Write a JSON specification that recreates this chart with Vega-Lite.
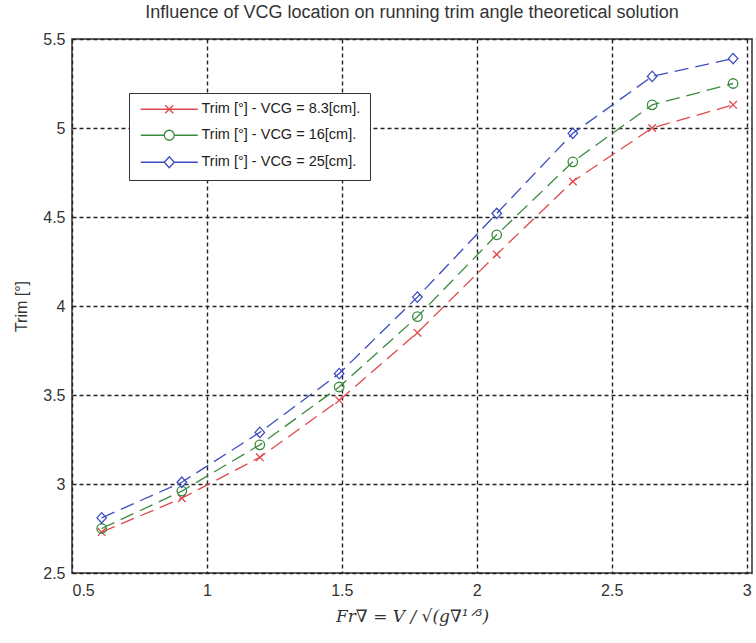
{
  "$schema": "https://vega.github.io/schema/vega-lite/v6.json",
  "autosize": "none",
  "width": 680,
  "height": 534,
  "padding": {"left": 72, "top": 39, "right": 4, "bottom": 70},
  "background": "white",
  "title": {
    "text": "Influence of VCG location on running trim angle theoretical solution",
    "font": "Liberation Sans",
    "fontSize": 18,
    "fontWeight": "normal",
    "color": "#333",
    "offset": 9,
    "anchor": "middle"
  },
  "config": {
    "view": {"stroke": "#333", "strokeWidth": 1.5},
    "axis": {
      "domain": false,
      "ticks": false,
      "grid": true,
      "gridColor": "#222",
      "gridDash": [4, 3],
      "gridWidth": 1.4,
      "gridOpacity": 1,
      "labelFont": "Liberation Sans",
      "labelFontSize": 16,
      "labelColor": "#333",
      "titleColor": "#333",
      "titleFontWeight": "normal"
    }
  },
  "data": {
    "values": [
      {"series": "Trim [°] - VCG = 8.3[cm].", "fr": 0.61, "trim": 2.73},
      {"series": "Trim [°] - VCG = 8.3[cm].", "fr": 0.907, "trim": 2.92},
      {"series": "Trim [°] - VCG = 8.3[cm].", "fr": 1.196, "trim": 3.15},
      {"series": "Trim [°] - VCG = 8.3[cm].", "fr": 1.49, "trim": 3.47},
      {"series": "Trim [°] - VCG = 8.3[cm].", "fr": 1.78, "trim": 3.85},
      {"series": "Trim [°] - VCG = 8.3[cm].", "fr": 2.074, "trim": 4.29},
      {"series": "Trim [°] - VCG = 8.3[cm].", "fr": 2.356, "trim": 4.7},
      {"series": "Trim [°] - VCG = 8.3[cm].", "fr": 2.65, "trim": 5.0},
      {"series": "Trim [°] - VCG = 8.3[cm].", "fr": 2.95, "trim": 5.13},
      {"series": "Trim [°] - VCG = 16[cm].", "fr": 0.61, "trim": 2.75},
      {"series": "Trim [°] - VCG = 16[cm].", "fr": 0.907, "trim": 2.96},
      {"series": "Trim [°] - VCG = 16[cm].", "fr": 1.196, "trim": 3.22},
      {"series": "Trim [°] - VCG = 16[cm].", "fr": 1.49, "trim": 3.545},
      {"series": "Trim [°] - VCG = 16[cm].", "fr": 1.78, "trim": 3.94},
      {"series": "Trim [°] - VCG = 16[cm].", "fr": 2.074, "trim": 4.4},
      {"series": "Trim [°] - VCG = 16[cm].", "fr": 2.356, "trim": 4.81},
      {"series": "Trim [°] - VCG = 16[cm].", "fr": 2.65, "trim": 5.13},
      {"series": "Trim [°] - VCG = 16[cm].", "fr": 2.95, "trim": 5.25},
      {"series": "Trim [°] - VCG = 25[cm].", "fr": 0.61, "trim": 2.81},
      {"series": "Trim [°] - VCG = 25[cm].", "fr": 0.907, "trim": 3.01},
      {"series": "Trim [°] - VCG = 25[cm].", "fr": 1.196, "trim": 3.29},
      {"series": "Trim [°] - VCG = 25[cm].", "fr": 1.49, "trim": 3.62},
      {"series": "Trim [°] - VCG = 25[cm].", "fr": 1.78, "trim": 4.05},
      {"series": "Trim [°] - VCG = 25[cm].", "fr": 2.074, "trim": 4.52},
      {"series": "Trim [°] - VCG = 25[cm].", "fr": 2.356, "trim": 4.97},
      {"series": "Trim [°] - VCG = 25[cm].", "fr": 2.65, "trim": 5.29},
      {"series": "Trim [°] - VCG = 25[cm].", "fr": 2.95, "trim": 5.39}
    ]
  },
  "encoding": {
    "x": {
      "field": "fr",
      "type": "quantitative",
      "scale": {"domain": [0.5, 3.02], "nice": false, "zero": false},
      "axis": {
        "values": [0.5, 1, 1.5, 2, 2.5, 3],
        "format": "~g",
        "labelPadding": 9,
        "title": "Fr∇ = V / √(g∇¹ᐟ³)",
        "titleFont": "DejaVu Serif",
        "titleFontStyle": "italic",
        "titleFontSize": 17,
        "titlePadding": 10
      }
    },
    "y": {
      "field": "trim",
      "type": "quantitative",
      "scale": {"domain": [2.5, 5.5], "nice": false, "zero": false},
      "axis": {
        "values": [2.5, 3, 3.5, 4, 4.5, 5, 5.5],
        "format": "~g",
        "labelPadding": 7,
        "title": "Trim [°]",
        "titleFont": "Liberation Sans",
        "titleFontSize": 16,
        "titlePadding": 13
      }
    },
    "color": {
      "field": "series",
      "type": "nominal",
      "scale": {
        "domain": ["Trim [°] - VCG = 8.3[cm].", "Trim [°] - VCG = 16[cm].", "Trim [°] - VCG = 25[cm]."],
        "range": ["#e0484c", "#3a8a3e", "#3c4cc0"]
      },
      "legend": {
        "title": null,
        "orient": "none",
        "legendX": 57,
        "legendY": 54,
        "padding": 9,
        "strokeColor": "#333",
        "fillColor": "white",
        "symbolSize": 100,
        "symbolStrokeWidth": 1.3,
        "symbolOpacity": 1,
        "symbolFillColor": "transparent",
        "symbolOffset": 24,
        "labelOffset": 25,
        "labelFont": "Liberation Sans",
        "labelFontSize": 14.5,
        "labelColor": "#222",
        "rowPadding": 11,
        "labelLimit": 300
      }
    }
  },
  "layer": [
    {
      "mark": {"type": "point", "filled": false, "opacity": 0, "size": 1},
      "encoding": {
        "shape": {
          "field": "series",
          "type": "nominal",
          "scale": {
            "domain": ["Trim [°] - VCG = 8.3[cm].", "Trim [°] - VCG = 16[cm].", "Trim [°] - VCG = 25[cm]."],
            "range": [
              "M-5.7,0L5.7,0M-0.8,-0.8L0.8,0.8M-0.8,0.8L0.8,-0.8",
              "M-5.7,0L-1,0M1,0L5.7,0M-1,0A1,1 0 1,0 1,0A1,1 0 1,0 -1,0",
              "M-5.7,0L-1,0M1,0L5.7,0M-1,0L0,-1.1L1,0L0,1.1Z"
            ]
          }
        }
      }
    },
    {
      "mark": {"type": "line", "strokeDash": [14, 7], "strokeWidth": 1.3},
      "encoding": {}
    },
    {
      "transform": [{"filter": "datum.series == 'Trim [°] - VCG = 8.3[cm].'"}],
      "mark": {"type": "point", "filled": false, "strokeWidth": 1.3, "size": 90, "opacity": 1, "shape": "M-0.8,-0.8L0.8,0.8M-0.8,0.8L0.8,-0.8"},
      "encoding": {}
    },
    {
      "transform": [{"filter": "datum.series == 'Trim [°] - VCG = 16[cm].'"}],
      "mark": {"type": "point", "filled": false, "strokeWidth": 1.3, "size": 90, "opacity": 1, "shape": "circle"},
      "encoding": {}
    },
    {
      "transform": [{"filter": "datum.series == 'Trim [°] - VCG = 25[cm].'"}],
      "mark": {"type": "point", "filled": false, "strokeWidth": 1.3, "size": 90, "opacity": 1, "shape": "M-1,0L0,-1.1L1,0L0,1.1Z"},
      "encoding": {}
    }
  ]
}
